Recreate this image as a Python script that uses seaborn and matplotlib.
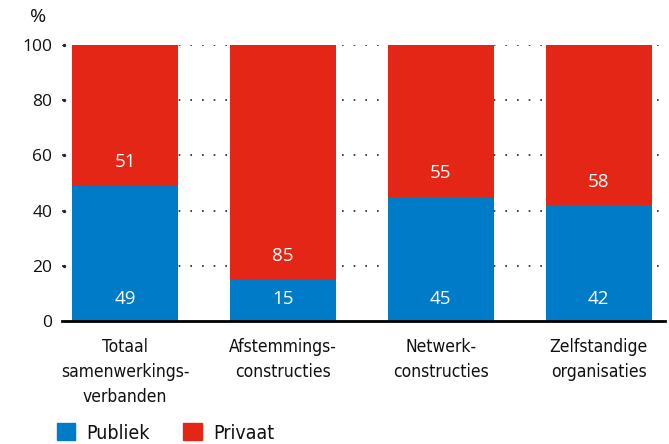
import matplotlib
matplotlib.use("Agg")
import matplotlib.pyplot as plt
import seaborn as sns
import pandas as pd
from matplotlib import font_manager
from matplotlib.patches import Patch

categories = ["Totaal\nsamenwerkings-\nverbanden", "Afstemmings-\nconstructies",
              "Netwerk-\nconstructies", "Zelfstandige\norganisaties"]
publiek = [49, 15, 45, 42]
privaat = [51, 85, 55, 58]
yticks = [0, 20, 40, 60, 80, 100]

blue = "#007BC7"
red = "#E42616"
ink = "#111111"

sns.set_style("white")
plt.rcParams["font.family"] = ["Open Sans", "DejaVu Sans"]
plt.rcParams["text.color"] = ink
plt.rcParams["xtick.color"] = ink
plt.rcParams["ytick.color"] = ink

# regular condensed face for the category labels, if one is installed
cond = None
for f in font_manager.fontManager.ttflist:
    narrow = "Narrow" in f.name or "Condensed" in f.name or f.stretch == "condensed" \
        or "Condensed" in f.fname or "Narrow" in f.fname
    plain = f.weight in (400, "normal", "regular", "book") and f.style == "normal" \
        and "Bold" not in f.fname and "Oblique" not in f.fname and "Italic" not in f.fname
    if narrow and plain:
        cond = f
        break
if cond is not None:
    cat_prop = font_manager.FontProperties(fname=cond.fname, size=12.5)
else:
    cat_prop = font_manager.FontProperties(family="Liberation Sans", size=12)

df = pd.DataFrame({"cat": categories, "Publiek": publiek, "Privaat": privaat})
df["Totaal"] = df["Publiek"] + df["Privaat"]

fig = plt.figure(figsize=(6.69, 4.44), dpi=100)
ax = fig.add_axes([62 / 669, 123 / 444, 603 / 669, 276 / 444])

# dotted grid behind bars
for t in yticks[1:]:
    ax.axhline(t, color="#222222", linestyle=(0, (1, 6)), linewidth=1.2, zorder=0)

sns.barplot(data=df, x="cat", y="Totaal", color=red, width=0.67, saturation=1,
            linewidth=0, ax=ax, zorder=2)
sns.barplot(data=df, x="cat", y="Publiek", color=blue, width=0.67, saturation=1,
            linewidth=0, ax=ax, zorder=3)

for i in range(len(categories)):
    ax.text(i, 8, str(publiek[i]), ha="center", va="center", color="white", fontsize=13.5, zorder=4)
    ax.text(i, publiek[i] + 8.5, str(privaat[i]), ha="center", va="center", color="white", fontsize=13.5, zorder=4)

ax.set_xlim(-0.4, 3.42)
ax.set_ylim(0, 100)
ax.set_yticks(yticks)
ax.set_yticklabels([str(t) for t in yticks], fontsize=12.5)
ax.tick_params(axis="y", length=0, pad=7)
ax.set_xticks(range(len(categories)))
ax.set_xticklabels(categories, fontproperties=cat_prop, linespacing=1.5)
ax.tick_params(axis="x", length=0, pad=12)
ax.set_xlabel("")
ax.set_ylabel("")
for s in ["top", "right", "left"]:
    ax.spines[s].set_visible(False)
ax.spines["bottom"].set_color("black")
ax.spines["bottom"].set_linewidth(2)
ax.spines["bottom"].set_zorder(5)

# small tick dots left of the plot
for t in yticks[1:]:
    ax.plot(-0.385, t, marker="o", markersize=1.4, color="#222222", clip_on=False)

fig.text(38 / 669, 1 - 17 / 444, "%", fontsize=14, ha="center", va="center")

handles = [Patch(color=blue, label="Publiek"), Patch(color=red, label="Privaat")]
leg_prop = cat_prop.copy()
leg_prop.set_size(14)
fig.legend(handles=handles, loc="center left", bbox_to_anchor=(39 / 669, 1 - 433 / 444),
           ncol=2, frameon=False, handlelength=0.95, handleheight=0.95,
           columnspacing=1.7, handletextpad=0.6, prop=leg_prop)

fig.savefig("out.png", dpi=100)
